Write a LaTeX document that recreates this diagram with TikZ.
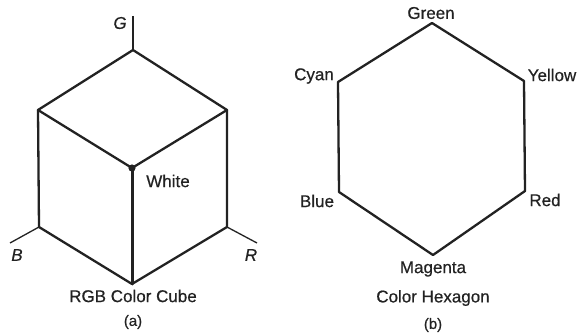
\documentclass[tikz,border=0pt]{standalone}
\usepackage{fontspec}
\setmainfont[FakeBold=0.6]{Liberation Sans}
\definecolor{ink}{HTML}{222222}
\tikzset{
  lbl/.style={text=ink,inner sep=0pt,font=\fontsize{17}{19}\selectfont},
  ital/.style={lbl,font=\fontsize{17}{19}\selectfont\itshape},
  small3/.style={lbl,font=\fontsize{15}{17}\selectfont},
  edge3/.style={draw=ink,line width=2.3pt,line join=round,line cap=round},
  thick3/.style={draw=ink,line width=3pt,line cap=round},
  axis3/.style={draw=ink,line width=1.3pt},
}
\begin{document}
\begin{tikzpicture}[x=1pt,y=-1pt]
\useasboundingbox (0,0) rectangle (579,334);
% cube vertices
\coordinate (gend) at (133,16);
\coordinate (ctop) at (133,50);
\coordinate (cleft) at (38,110);
\coordinate (cright) at (227,110);
\coordinate (cmid) at (132,168);
\coordinate (cbl) at (39,227);
\coordinate (cbr) at (227,227);
\coordinate (cbot) at (132,284);
\coordinate (bend) at (10,243);
\coordinate (rend) at (257,243);
\draw[axis3] (gend) -- (ctop);
\draw[axis3] (cbl) -- (bend);
\draw[axis3] (cbr) -- (rend);
\draw[edge3] (ctop) -- (cleft) -- (cmid) -- (cright) -- cycle;
\draw[edge3] (cleft) -- (cbl) -- (cbot) -- (cbr) -- (cright);
\draw[thick3] (cmid) -- (cbot);
\fill[ink] (cmid) circle (3.6pt);
\node[ital] (lg) at (120,23) {G};
\node[lbl] (lw) at (168,181) {White};
\node[ital] (lb) at (17,255) {B};
\node[ital] (lr) at (251,255) {R};
\node[lbl] (lcube) at (133,296) {RGB Color Cube};
\node[small3] (la) at (133,322) {(a)};
% hexagon vertices
\coordinate (hg) at (432,23);
\coordinate (hy) at (524,81);
\coordinate (hr) at (525,191);
\coordinate (hm) at (433,255);
\coordinate (hb) at (339,192);
\coordinate (hc) at (338,82);
\draw[edge3] (hg) -- (hy) -- (hr) -- (hm) -- (hb) -- (hc) -- cycle;
\node[lbl] (tg) at (431,13) {Green};
\node[lbl] (tc) at (314,76) {Cyan};
\node[lbl] (ty) at (552,75) {Yellow};
\node[lbl] (tb) at (317,201) {Blue};
\node[lbl] (tr) at (545,200) {Red};
\node[lbl] (tm) at (433,269) {Magenta};
\node[lbl] (thex) at (433,298) {Color Hexagon};
\node[small3] (tbb) at (433,325) {(b)};
\end{tikzpicture}
\end{document}
